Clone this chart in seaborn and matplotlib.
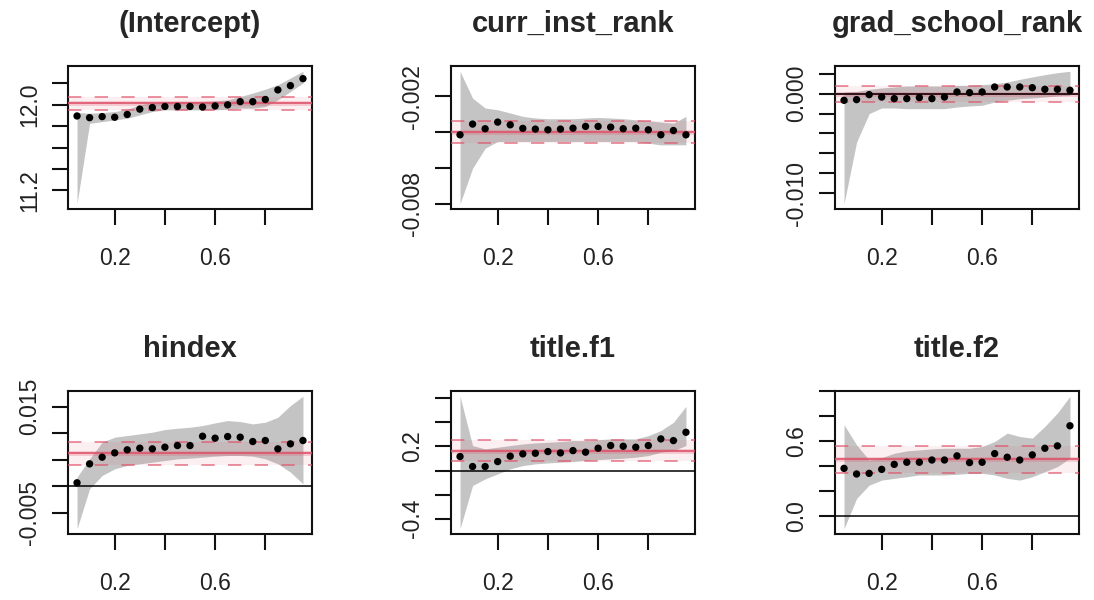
"""
Quantile regression coefficient plots (quantreg style) redrawn with seaborn
"""

import matplotlib
matplotlib.use("Agg")
import matplotlib.pyplot as plt
import seaborn as sns

sns.set_style("white")
plt.rcParams['font.family'] = ['Liberation Sans', 'DejaVu Sans']

# quantiles
taus = [0.05, 0.10, 0.15, 0.20, 0.25, 0.30, 0.35, 0.40, 0.45, 0.50,
        0.55, 0.60, 0.65, 0.70, 0.75, 0.80, 0.85, 0.90, 0.95]

# (Intercept)
intercept_coef = [11.896, 11.880, 11.890, 11.884, 11.910, 11.960, 11.975, 11.985, 11.985, 11.985,
                  11.980, 11.990, 12.000, 12.030, 12.030, 12.050, 12.140, 12.180, 12.245]
intercept_lo = [11.075, 11.827, 11.843, 11.859, 11.875, 11.906, 11.937, 11.953, 11.953, 11.953,
                11.953, 11.953, 11.959, 11.969, 11.969, 11.984, 12.047, 12.125, 12.204]
intercept_hi = [11.928, 11.922, 11.928, 11.937, 11.959, 12.000, 12.022, 12.031, 12.031, 12.031,
                12.031, 12.038, 12.047, 12.078, 12.110, 12.147, 12.188, 12.251, 12.314]
intercept_ols = [12.016, 11.953, 12.069]

# curr_inst_rank
curr_coef = [-0.00415, -0.00355, -0.00381, -0.00344, -0.00359, -0.00379, -0.00383, -0.00387, -0.00383, -0.00378,
             -0.00368, -0.00368, -0.00372, -0.00381, -0.00378, -0.00387, -0.00415, -0.00391, -0.00415]
curr_lo = [-0.00800, -0.00602, -0.00490, -0.00452, -0.00452, -0.00452, -0.00452, -0.00452, -0.00452, -0.00452,
           -0.00452, -0.00452, -0.00452, -0.00452, -0.00452, -0.00462, -0.00471, -0.00471, -0.00471]
curr_hi = [-0.00060, -0.00210, -0.00265, -0.00275, -0.00293, -0.00312, -0.00321, -0.00325, -0.00325, -0.00325,
           -0.00321, -0.00318, -0.00321, -0.00325, -0.00331, -0.00336, -0.00344, -0.00350, -0.00312]
curr_ols = [-0.00400, -0.00462, -0.00336]

# grad_school_rank
grad_coef = [-0.00067, -0.00060, -0.00010, -0.00034, -0.00050, -0.00050, -0.00040, -0.00050, -0.00034, 0.00017,
             0.00010, 0.00017, 0.00067, 0.00067, 0.00067, 0.00060, 0.00044, 0.00044, 0.00034]
grad_lo = [-0.01107, -0.00487, -0.00201, -0.00144, -0.00144, -0.00151, -0.00151, -0.00151, -0.00151, -0.00134,
           -0.00124, -0.00117, -0.00084, -0.00067, -0.00050, -0.00044, -0.00034, -0.00023, -0.00017]
grad_hi = [0.00017, 0.00023, 0.00044, 0.00057, 0.00067, 0.00077, 0.00077, 0.00077, 0.00077, 0.00084,
           0.00084, 0.00091, 0.00101, 0.00117, 0.00144, 0.00168, 0.00191, 0.00211, 0.00225]
grad_ols = [-0.00003, -0.00084, 0.00077]

# hindex
hindex_coef = [0.00063, 0.00421, 0.00547, 0.00629, 0.00686, 0.00717, 0.00704, 0.00736, 0.00767, 0.00767,
               0.00943, 0.00906, 0.00937, 0.00925, 0.00843, 0.00862, 0.00704, 0.00799, 0.00862]
hindex_lo = [-0.00805, -0.00050, 0.00201, 0.00327, 0.00390, 0.00421, 0.00453, 0.00484, 0.00516, 0.00528,
             0.00547, 0.00566, 0.00579, 0.00579, 0.00566, 0.00516, 0.00421, 0.00264, 0.00044]
hindex_hi = [0.00170, 0.00516, 0.00830, 0.00925, 0.00956, 0.00987, 0.01019, 0.01069, 0.01094, 0.01113,
             0.01145, 0.01195, 0.01239, 0.01220, 0.01176, 0.01208, 0.01302, 0.01522, 0.01698]
hindex_ols = [0.00629, 0.00390, 0.00843]

# title.f1
f1_coef = [0.116, 0.033, 0.033, 0.074, 0.119, 0.138, 0.143, 0.157, 0.146, 0.165,
           0.152, 0.185, 0.207, 0.201, 0.193, 0.207, 0.262, 0.248, 0.317]
f1_lo = [-0.482, -0.124, -0.069, -0.028, 0.014, 0.041, 0.055, 0.063, 0.069, 0.074,
         0.083, 0.091, 0.096, 0.102, 0.110, 0.124, 0.152, 0.165, 0.207]
f1_hi = [0.615, 0.207, 0.179, 0.193, 0.207, 0.220, 0.229, 0.234, 0.240, 0.248,
         0.248, 0.256, 0.262, 0.262, 0.262, 0.289, 0.331, 0.399, 0.532]
f1_ols = [0.165, 0.083, 0.253]

# title.f2
f2_coef = [0.381, 0.336, 0.341, 0.373, 0.413, 0.430, 0.430, 0.448, 0.448, 0.481,
           0.427, 0.430, 0.499, 0.470, 0.448, 0.489, 0.542, 0.561, 0.722]
f2_lo = [-0.102, 0.140, 0.247, 0.287, 0.301, 0.314, 0.328, 0.328, 0.328, 0.333,
         0.341, 0.341, 0.328, 0.301, 0.287, 0.314, 0.354, 0.395, 0.462]
f2_hi = [0.730, 0.569, 0.448, 0.467, 0.502, 0.521, 0.529, 0.537, 0.542, 0.542,
         0.542, 0.556, 0.596, 0.663, 0.636, 0.623, 0.717, 0.824, 0.958]
f2_ols = [0.454, 0.341, 0.564]

titles = ['(Intercept)', 'curr_inst_rank', 'grad_school_rank', 'hindex', 'title.f1', 'title.f2']

ytick_values = [
    [11.2, 11.4, 11.6, 11.8, 12.0, 12.2],
    [-0.008, -0.006, -0.004, -0.002],
    [-0.010, -0.008, -0.006, -0.004, -0.002, 0.000, 0.002],
    [-0.005, 0.000, 0.005, 0.010, 0.015],
    [-0.4, -0.2, 0.0, 0.2, 0.4, 0.6],
    [0.0, 0.2, 0.4, 0.6, 0.8, 1.0],
]
ytick_labels = [
    ['11.2', '', '', '', '12.0', ''],
    ['-0.008', '', '', '-0.002'],
    ['-0.010', '', '', '', '', '0.000', ''],
    ['-0.005', '', '', '', '0.015'],
    ['-0.4', '', '', '0.2', '', ''],
    ['0.0', '', '', '0.6', '', ''],
]
xtick_values = [0.2, 0.4, 0.6, 0.8]
xtick_labels = ['0.2', '', '0.6', '']

coefs = [intercept_coef, curr_coef, grad_coef, hindex_coef, f1_coef, f2_coef]
lows = [intercept_lo, curr_lo, grad_lo, hindex_lo, f1_lo, f2_lo]
highs = [intercept_hi, curr_hi, grad_hi, hindex_hi, f1_hi, f2_hi]
ols = [intercept_ols, curr_ols, grad_ols, hindex_ols, f1_ols, f2_ols]

RED = '#DF536B'
BAND = '#c4c4c4'
W, H = 1094, 600
lefts = [68, 451, 835]
tops = [66, 391]
aw, ah = 244, 143

fig = plt.figure(figsize=(W / 100, H / 100), dpi=100)

for i in range(6):
    r, c = divmod(i, 3)
    ax = fig.add_axes([lefts[c] / W, 1 - (tops[r] + ah) / H, aw / W, ah / H])

    lo, hi = min(lows[i]), max(highs[i])
    pad = 0.04 * (hi - lo)
    ax.set_ylim(lo - pad, hi + pad)
    ax.set_xlim(0.014, 0.986)

    # bootstrap band
    ax.fill_between(taus, lows[i], highs[i], color=BAND, lw=0, zorder=1)
    # OLS estimate and its interval
    est, ci_lo, ci_hi = ols[i]
    ax.axhspan(ci_lo, ci_hi, color=RED, alpha=0.09, lw=0, zorder=2)
    ax.axhline(est, color=RED, lw=3.5, alpha=0.25, zorder=3)
    ax.axhline(est, color=RED, lw=1.2, zorder=3)
    ax.axhline(ci_lo, color=RED, lw=1.2, alpha=0.75, ls=(0, (8, 8)), zorder=3)
    ax.axhline(ci_hi, color=RED, lw=1.2, alpha=0.75, ls=(0, (8, 8)), zorder=3)
    if lo - pad < 0 < hi + pad:
        ax.axhline(0, color='black', lw=1.1, zorder=3)

    sns.scatterplot(x=taus, y=coefs[i], ax=ax, color='black', s=28,
                    edgecolor='none', zorder=4)

    ax.set_xticks(xtick_values)
    ax.set_xticklabels(xtick_labels)
    ax.set_yticks(ytick_values[i])
    ax.set_yticklabels(ytick_labels[i], rotation=90, va='center')
    ax.tick_params(axis='both', direction='out', length=11.5, width=1.5,
                   labelsize=16.5, labelcolor='#222222', color='#111111',
                   bottom=True, left=True)
    ax.tick_params(axis='x', pad=16)
    ax.tick_params(axis='y', pad=8)
    for s in ax.spines.values():
        s.set_linewidth(1.5)
        s.set_color('#111111')
    ax.set_title(titles[i], fontsize=21, fontweight='bold', pad=24.5)

fig.savefig('out.png', dpi=100)
